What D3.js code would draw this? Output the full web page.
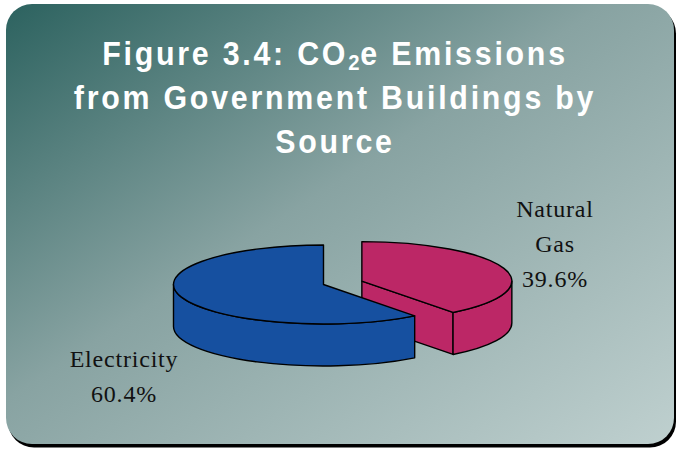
<!DOCTYPE html>
<html>
<head>
<meta charset="utf-8">
<script src="https://cdn.jsdelivr.net/npm/d3@7"></script>
<style>
  html, body { margin: 0; padding: 0; background: #ffffff; }
  svg { display: block; }
</style>
</head>
<body>
<svg id="chart" width="678" height="450"></svg>
<script>
// Emission sources and their shares (%)
const sources = ["Natural Gas", "Electricity"];
const shares = [39.6, 60.4];
const shareLabels = ["39.6%", "60.4%"];
const labelLines = [["Natural", "Gas"], ["Electricity"]];
const sliceColors = ["#bc2766", "#1650a0"];

const W = 678, H = 450;
const svg = d3.select("#chart");

// Panel background with diagonal gradient and drop shadow
const defs = svg.append("defs");
const grad = defs.append("linearGradient")
  .attr("id", "panelGrad")
  .attr("x1", 0).attr("y1", 0).attr("x2", 1).attr("y2", 1);
grad.append("stop").attr("offset", 0).attr("stop-color", "#2c625f");
grad.append("stop").attr("offset", 0.45).attr("stop-color", "#88a3a2");
grad.append("stop").attr("offset", 1).attr("stop-color", "#bfd0cf");

const panel = { x: 6, y: 4, w: 668, h: 440, r: 26 };
svg.append("rect")
  .attr("x", panel.x + 2).attr("y", panel.y + 3.5)
  .attr("width", panel.w).attr("height", panel.h)
  .attr("rx", panel.r).attr("ry", panel.r)
  .attr("fill", "#000");
svg.append("rect")
  .attr("x", panel.x).attr("y", panel.y)
  .attr("width", panel.w).attr("height", panel.h)
  .attr("rx", panel.r).attr("ry", panel.r)
  .attr("fill", "url(#panelGrad)");

// Title (slightly condensed bold sans)
const title = svg.append("g")
  .attr("transform", "translate(335,0) scale(0.92,1)")
  .attr("font-family", "'Liberation Sans', Arial, sans-serif")
  .attr("font-weight", "bold")
  .attr("font-size", 33)
  .attr("letter-spacing", "3px")
  .attr("fill", "#ffffff")
  .attr("text-anchor", "middle");
const t1 = title.append("text").attr("x", 0).attr("y", 65);
t1.append("tspan").text("Figure 3.4: CO");
t1.append("tspan").attr("font-size", 22).attr("dy", 5).attr("letter-spacing", "1px").text("2");
t1.append("tspan").attr("dy", -5).text("e Emissions");
title.append("text").attr("x", 0).attr("y", 109).text("from Government Buildings by");
title.append("text").attr("x", 0).attr("y", 153).text("Source");

// 3-D pie geometry
const cx = 323.5, cy = 284.5, rx = 150, ry = 39.5, depth = 42;
const explode = [40.5, 0];   // gas slice pulled out

const pie = d3.pie().sort(null).value(d => d)(shares);

function pt(a, ox, oy, dz) {
  return [ox + rx * Math.sin(a), oy - ry * Math.cos(a) + (dz || 0)];
}

const g = svg.append("g")
  .attr("stroke", "#000")
  .attr("stroke-width", 1.4)
  .attr("stroke-linejoin", "round");

pie.forEach((s, i) => {
  const mid = (s.startAngle + s.endAngle) / 2;
  const ox = cx + explode[i] * Math.sin(mid);
  const oy = cy - explode[i] * Math.cos(mid) * (ry / rx);
  const a0 = s.startAngle, a1 = s.endAngle;
  const col = sliceColors[i];

  // cut faces that face the viewer
  const faces = [];
  if (Math.sin(a1) > 1e-6) faces.push(a1);
  if (-Math.sin(a0) > 1e-6) faces.push(a0);
  faces.forEach(a => {
    const p = pt(a, ox, oy), pb = pt(a, ox, oy, depth);
    const path = d3.path();
    path.moveTo(ox, oy);
    path.lineTo(p[0], p[1]);
    path.lineTo(pb[0], pb[1]);
    path.lineTo(ox, oy + depth);
    path.closePath();
    g.append("path").attr("d", path.toString()).attr("fill", col);
  });

  // outer wall on the front half
  const w0 = Math.max(a0, Math.PI / 2), w1 = Math.min(a1, 3 * Math.PI / 2);
  if (w1 > w0) {
    const s0 = pt(w0, ox, oy), s1 = pt(w1, ox, oy);
    const b0 = pt(w0, ox, oy, depth), b1 = pt(w1, ox, oy, depth);
    const large = (w1 - w0) > Math.PI ? 1 : 0;
    const d = `M${s0[0]},${s0[1]} A${rx},${ry} 0 ${large} 1 ${s1[0]},${s1[1]}` +
      ` L${b1[0]},${b1[1]} A${rx},${ry} 0 ${large} 0 ${b0[0]},${b0[1]} Z`;
    g.append("path").attr("d", d).attr("fill", col);
  }

  // top face
  const p0 = pt(a0, ox, oy), p1 = pt(a1, ox, oy);
  const large = (a1 - a0) > Math.PI ? 1 : 0;
  const dTop = `M${ox},${oy} L${p0[0]},${p0[1]} A${rx},${ry} 0 ${large} 1 ${p1[0]},${p1[1]} Z`;
  g.append("path").attr("d", dTop).attr("fill", col);
});

// Slice labels
const labelPos = [[555, 217], [124, 367]];
const lab = svg.append("g")
  .attr("font-family", "'Liberation Serif', 'Times New Roman', serif")
  .attr("font-size", 24)
  .attr("letter-spacing", "0.8px")
  .attr("fill", "#111")
  .attr("text-anchor", "middle");
sources.forEach((name, i) => {
  const lines = labelLines[i].concat([shareLabels[i]]);
  lines.forEach((ln, j) => {
    lab.append("text")
      .attr("x", labelPos[i][0])
      .attr("y", labelPos[i][1] + j * 35)
      .text(ln);
  });
});
</script>
</body>
</html>
